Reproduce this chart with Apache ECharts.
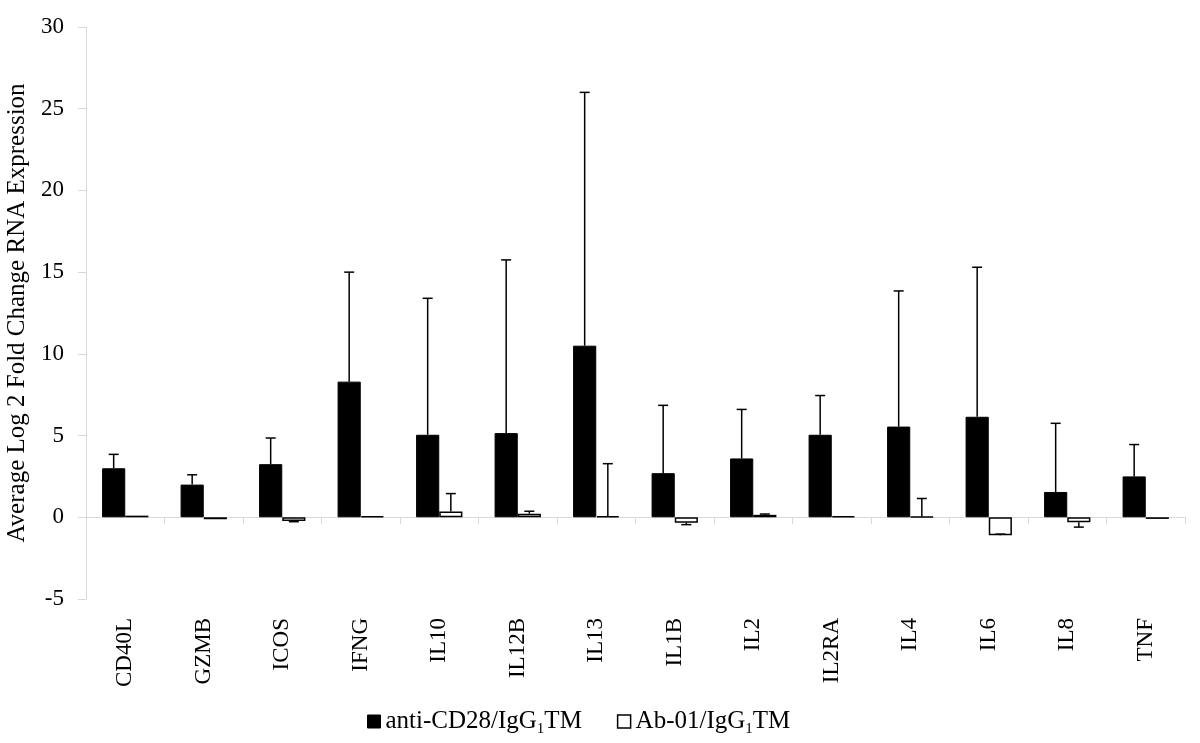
<!DOCTYPE html>
<html><head><meta charset="utf-8">
<script src="https://cdn.jsdelivr.net/npm/echarts@6/dist/echarts.min.js"></script>
<style>html,body{margin:0;padding:0;background:#fff}#c{width:1200px;height:743px}</style>
</head><body><div id="c"></div>
<script>
const categories = ['CD40L','GZMB','ICOS','IFNG','IL10','IL12B','IL13','IL1B','IL2','IL2RA','IL4','IL6','IL8','TNF'];
const antiCD28 = [3.0, 2.0, 3.25, 8.3, 5.05, 5.15, 10.5, 2.7, 3.6, 5.05, 5.55, 6.15, 1.55, 2.5];
const antiCD28Err = [0.85, 0.6, 1.6, 6.7, 8.35, 10.6, 15.5, 4.15, 3.0, 2.4, 8.3, 9.15, 4.2, 1.95];
const ab01 = [0.1, -0.12, -0.22, 0.06, 0.35, 0.22, 0.08, -0.33, 0.15, 0.06, 0.03, -1.1, -0.3, -0.1];
const ab01Err = [0, 0, 0.05, 0, 1.1, 0.15, 3.2, 0.12, 0.05, 0, 1.12, -0.07, 0.3, 0];
const yTicks = {min: -5, max: 30, interval: 5};
const seriesNames = ['anti-CD28/IgG{s|1}TM', 'Ab-01/IgG{s|1}TM'];

const FONT = '"Liberation Serif", "DejaVu Serif", serif';
const GAP = 0.41;
function errRender(vals, errs, side) {
  return function (params, api) {
    const i = api.value(0);
    const v = vals[i], e = errs[i];
    if (!e) return null;
    const band = api.size([1, 0])[0];
    const bw = band * (1 - GAP) / 2;
    const c0 = api.coord([i, v]);
    const x = c0[0] + side * bw / 2;
    const tip = v >= 0 ? v + e : v - e;
    const p1 = api.coord([i, v]);
    const p2 = api.coord([i, tip]);
    const cap = 5;
    const st = {stroke: '#000', lineWidth: 1.5};
    return {type: 'group', children: [
      {type: 'line', shape: {x1: x, y1: p1[1], x2: x, y2: p2[1]}, style: st},
      {type: 'line', shape: {x1: x - cap, y1: p2[1], x2: x + cap, y2: p2[1]}, style: st}
    ]};
  };
}
const chart = echarts.init(document.getElementById('c'));
chart.setOption({
  animation: false,
  backgroundColor: '#fff',
  grid: {left: 86, right: 15, top: 27, bottom: 144, containLabel: false, outerBoundsMode: 'none'},
  legend: {
    top: 704, left: 362, itemWidth: 13, itemHeight: 13, itemGap: 35,
    data: [
      {name: seriesNames[0], icon: 'rect', itemStyle: {color: '#000', borderColor: '#000', borderWidth: 1}},
      {name: seriesNames[1], icon: 'rect', itemStyle: {color: '#fff', borderColor: '#000', borderWidth: 1.5}}
    ],
    textStyle: {fontFamily: FONT, fontSize: 25, color: '#000',
      rich: {s: {fontFamily: FONT, fontSize: 15, color: '#000', verticalAlign: 'bottom', padding: [16, 0, 0, 0]}}}
  },
  xAxis: [
    {type: 'category', data: categories, position: 'bottom',
     axisLine: {show: false, onZero: false}, axisTick: {show: false},
     axisLabel: {rotate: 90, fontFamily: FONT, fontSize: 23, color: '#000', margin: 19}},
    {type: 'category', data: categories, position: 'bottom',
     axisLine: {show: true, onZero: true, lineStyle: {color: '#d9d9d9', width: 1}},
     axisTick: {show: true, length: 7, lineStyle: {color: '#d9d9d9'}},
     axisLabel: {show: false}}
  ],
  yAxis: {
    type: 'value', min: yTicks.min, max: yTicks.max, interval: yTicks.interval,
    splitLine: {show: false},
    axisLine: {show: true, lineStyle: {color: '#d9d9d9'}},
    axisTick: {show: true, length: 8, lineStyle: {color: '#d9d9d9'}},
    axisLabel: {fontFamily: FONT, fontSize: 23, color: '#000', margin: 22},
    name: 'Average Log 2 Fold Change RNA Expression', nameLocation: 'middle', nameRotate: 90, nameGap: 55,
    nameTextStyle: {fontFamily: FONT, fontSize: 25, color: '#000'}
  },
  series: [
    {name: seriesNames[0], type: 'bar', data: antiCD28, barGap: '0%', barCategoryGap: (GAP * 100) + '%',
     itemStyle: {color: '#000', borderColor: '#000', borderWidth: 1}},
    {name: seriesNames[1], type: 'bar', data: ab01, barGap: '0%', barCategoryGap: (GAP * 100) + '%',
     itemStyle: {color: '#fff', borderColor: '#000', borderWidth: 1.5}},
    {type: 'custom', renderItem: errRender(antiCD28, antiCD28Err, -1), data: categories.map((c, i) => [i]), z: 5, silent: true},
    {type: 'custom', renderItem: errRender(ab01, ab01Err, 1), data: categories.map((c, i) => [i]), z: 5, silent: true}
  ]
});
</script></body></html>
